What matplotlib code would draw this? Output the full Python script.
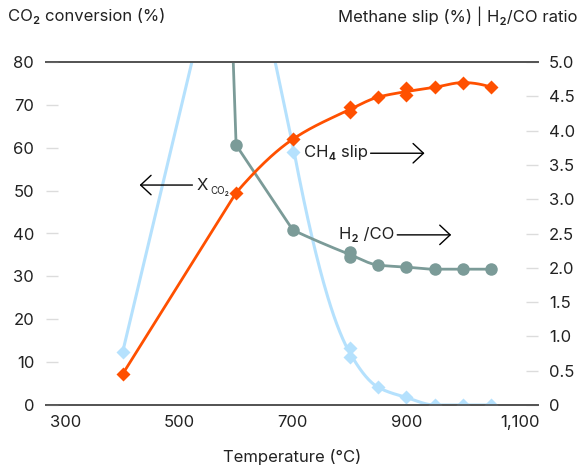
import numpy as np
import matplotlib
matplotlib.use("Agg")
import matplotlib.pyplot as plt

plt.rcParams['font.family'] = ['Inter', 'DejaVu Sans']

# CO2 conversion (%), left axis
temp_co2 = [400, 600, 700, 800, 800, 850, 900, 900, 950, 1000, 1050]
co2_conv = [7.2, 49.5, 62.0, 69.5, 68.3, 71.8, 73.9, 72.3, 74.1, 75.2, 74.1]

# H2/CO ratio, right axis
temp_h2co = [500, 600, 700, 800, 800, 850, 900, 950, 1000, 1050]
h2co = [28.0, 3.79, 2.55, 2.23, 2.16, 2.04, 2.01, 1.98, 1.98, 1.98]

# methane slip (%), right axis
temp_ch4 = [400, 600, 700, 700, 800, 800, 850, 900, 950, 1000, 1050]
ch4_slip = [0.77, 7.7, 3.88, 3.69, 0.83, 0.70, 0.26, 0.11, 0.0, 0.0, 0.0]

left_ticks = [0, 10, 20, 30, 40, 50, 60, 70, 80]
right_ticks = [0, 0.5, 1.0, 1.5, 2.0, 2.5, 3.0, 3.5, 4.0, 4.5, 5.0]
right_labels = ['0', '0.5', '1.0', '1.5', '2.0', '2.5', '3.0', '3.5', '4.0', '4.5', '5.0']
x_ticks = [300, 500, 700, 900, 1100]
x_labels = ['300', '500', '700', '900', '1,100']

ORANGE = '#ff5000'
GREY = '#7b9b98'
BLUE = '#b5e1fd'
TXT = '#222222'


def pchip(x, y, xs):
    x = np.asarray(x, float)
    y = np.asarray(y, float)
    h = np.diff(x)
    d = np.diff(y) / h
    n = len(x)
    m = np.zeros(n)
    for k in range(1, n - 1):
        if d[k - 1] * d[k] > 0:
            w1 = 2 * h[k] + h[k - 1]
            w2 = h[k] + 2 * h[k - 1]
            m[k] = (w1 + w2) / (w1 / d[k - 1] + w2 / d[k])

    def end_slope(h0, h1, d0, d1):
        s = ((2 * h0 + h1) * d0 - h0 * d1) / (h0 + h1)
        if np.sign(s) != np.sign(d0):
            return 0.0
        if np.sign(d0) != np.sign(d1) and abs(s) > abs(3 * d0):
            return 3 * d0
        return s

    m[0] = end_slope(h[0], h[1], d[0], d[1])
    m[-1] = end_slope(h[-1], h[-2], d[-1], d[-2])
    idx = np.clip(np.searchsorted(x, xs) - 1, 0, n - 2)
    t = (xs - x[idx]) / h[idx]
    h00 = 2 * t**3 - 3 * t**2 + 1
    h10 = t**3 - 2 * t**2 + t
    h01 = -2 * t**3 + 3 * t**2
    h11 = t**3 - t**2
    return h00 * y[idx] + h10 * h[idx] * m[idx] + h01 * y[idx + 1] + h11 * h[idx] * m[idx + 1]


def line_path(xv, yv, smooth_from):
    # average repeated temperatures, straight segments before smooth_from, pchip after
    ux = sorted(set(xv))
    uy = [np.mean([b for a, b in zip(xv, yv) if a == u]) for u in ux]
    ux = np.array(ux, float)
    uy = np.array(uy)
    lin = ux <= smooth_from
    sm = ux >= smooth_from
    xs = np.linspace(smooth_from, ux[-1], 200)
    ys = pchip(ux[sm], uy[sm], xs)
    return np.concatenate([ux[lin][:-1], xs]), np.concatenate([uy[lin][:-1], ys])


fig = plt.figure(figsize=(5.78, 4.69), dpi=100)
ax = fig.add_axes([46 / 578, 1 - 405 / 469, 492 / 578, 343 / 469])
ax2 = ax.twinx()
ax.set_zorder(ax2.get_zorder() + 1)
ax.patch.set_visible(False)

# methane slip and H2/CO on the right axis
bx, by = line_path(temp_ch4, ch4_slip, 700)
ax2.plot(bx, by, color=BLUE, lw=2.2, zorder=2)
ax2.plot(temp_ch4, ch4_slip, 'D', color=BLUE, ms=6.8, mec='none', zorder=3)

gx, gy = line_path(temp_h2co, h2co, 700)
ax2.plot(gx, gy, color=GREY, lw=2.0, zorder=4)
ax2.plot(temp_h2co, h2co, 'o', color=GREY, ms=9, mec='none', zorder=5)

# CO2 conversion on the left axis
ox, oy = line_path(temp_co2, co2_conv, 600)
ax.plot(ox, oy, color=ORANGE, lw=2.0, zorder=3)
ax.plot(temp_co2, co2_conv, 'D', color=ORANGE, ms=6.8, mec='none', zorder=4)

ax.set_xlim(265, 1132)
ax.set_ylim(0, 80)
ax2.set_ylim(0, 5)

ax.set_xticks(x_ticks)
ax.set_xticklabels(x_labels)
ax.set_yticks(left_ticks)
ax.set_yticklabels([str(v) for v in left_ticks])
ax2.set_yticks(right_ticks)
ax2.set_yticklabels(right_labels)

for a in (ax, ax2):
    for s in ('left', 'right'):
        a.spines[s].set_visible(False)
    for s in ('top', 'bottom'):
        a.spines[s].set_color('#555555')
        a.spines[s].set_linewidth(1.3)

ax.tick_params(axis='x', length=0, pad=7, labelsize=12, labelcolor=TXT)
ax.tick_params(axis='y', direction='in', length=8.6, width=1, color='#dcdcdc',
               pad=8.5, labelsize=12, labelcolor=TXT)
ax2.tick_params(axis='y', direction='in', length=8.6, width=1, color='#dcdcdc',
                pad=8, labelsize=12, labelcolor=TXT)

ax.set_xlabel('Temperature (°C)', fontsize=12, color=TXT, labelpad=14)

fig.text(8 / 578, 1 - 16 / 469, 'CO₂ conversion (%)', fontsize=12, color=TXT,
         ha='left', va='center')
fig.text(1.0, 1 - 16 / 469, 'Methane slip (%) | H₂/CO ratio', fontsize=12, color=TXT,
         ha='right', va='center')

arrow = dict(arrowstyle='->,head_length=0.75,head_width=0.7', lw=1, color='black',
             shrinkA=0, shrinkB=0, mutation_scale=10)

# X_CO2 label with left arrow
ax.annotate('', xy=(430, 51.3), xytext=(523, 51.3), arrowprops=arrow)
ax.text(531, 51.3, 'X', fontsize=12, color=TXT, ha='left', va='center')
ax.text(555, 49.8, 'CO₂', fontsize=7, color=TXT, ha='left', va='center')

# CH4 slip label with right arrow
ax2.text(719, 3.68, 'CH₄ slip', fontsize=12, color=TXT, ha='left', va='center')
ax2.annotate('', xy=(932, 3.67), xytext=(837, 3.67), arrowprops=arrow)

# H2/CO label with right arrow
ax2.text(781, 2.48, 'H₂ /CO', fontsize=12, color=TXT, ha='left', va='center')
ax2.annotate('', xy=(979, 2.48), xytext=(884, 2.48), arrowprops=arrow)

fig.savefig('out.png', dpi=100)
